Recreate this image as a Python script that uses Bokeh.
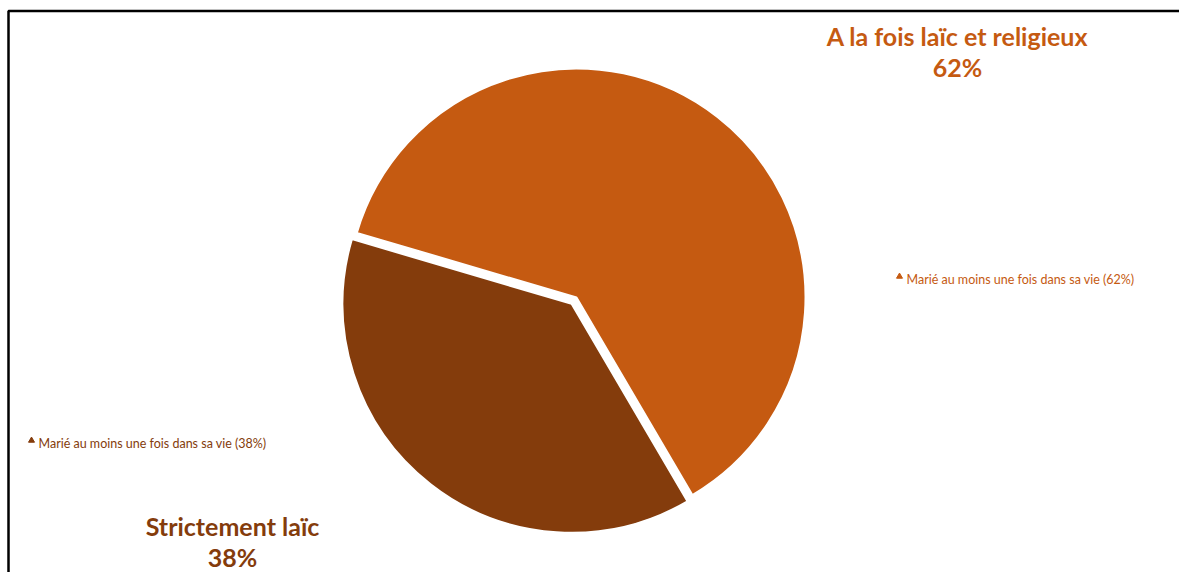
import numpy as np
from bokeh.plotting import figure
from bokeh.models import Range1d, ColumnDataSource
from bokeh.core.properties import value
from bokeh.embed import file_html
from bokeh.resources import INLINE

# ---- data ----
categories = ["A la fois laïc et religieux", "Strictement laïc"]
shares = [62, 38]
colors = ["#C55A11", "#843C0C"]
legend_labels = ["Marié au moins une fois dans sa vie (62%)",
                 "Marié au moins une fois dans sa vie (38%)"]
pct_labels = ["62%", "38%"]

W, H = 1179, 572
p = figure(width=W, height=H, output_backend="svg", toolbar_location=None,
           x_range=Range1d(0, W), y_range=Range1d(0, H), min_border=0)
p.axis.visible = False
p.grid.visible = False
p.outline_line_color = None
p.background_fill_color = "white"

# frame (top and left edges visible)
p.line([8, 8, W], [0, 561.5, 561.5], line_color="black", line_width=2.5)

# ---- pie ----
cx, cy, r = 576, 275, 229
start0 = np.deg2rad(163.6)
fr = np.array(shares) / sum(shares)
ends = start0 - 2 * np.pi * np.cumsum(fr)
starts = np.concatenate([[start0], ends[:-1]])
explode = [0, 8]
mids = (starts + ends) / 2
xs = [cx + e * np.cos(m) for e, m in zip(explode, mids)]
ys = [cy + e * np.sin(m) for e, m in zip(explode, mids)]
src = ColumnDataSource(dict(x=xs, y=ys, s=starts, e=ends, c=colors))
p.wedge(x="x", y="y", radius=r, start_angle="s", end_angle="e", direction="clock",
        fill_color="c", line_color="white", line_width=2, source=src)

# ---- category labels ----
lab_x = [957, 232]
lab_y = [537, 47]
for i in range(2):
    p.text(x=[lab_x[i]], y=[lab_y[i]], text=[categories[i]], text_color=colors[i],
           text_font=value("Lato"), text_font_style="bold", text_font_size="25px",
           text_align="center", text_baseline="middle")
    p.text(x=[lab_x[i]], y=[lab_y[i] - 31], text=[pct_labels[i]], text_color=colors[i],
           text_font=value("Lato"), text_font_style="bold", text_font_size="25px",
           text_align="center", text_baseline="middle")

# ---- small legend-like labels ----
leg_x = [899, 31]
leg_y = [293, 129]
for i in range(2):
    p.scatter(x=[leg_x[i]], y=[leg_y[i] + 3], marker="triangle", size=6,
              fill_color=colors[i], line_color=colors[i])
    p.text(x=[leg_x[i] + 7], y=[leg_y[i]], text=[legend_labels[i]], text_color=colors[i],
           text_font=value("Lato"), text_font_size="12.5px",
           text_align="left", text_baseline="middle")

open("out.html", "w").write(file_html(p, INLINE))
